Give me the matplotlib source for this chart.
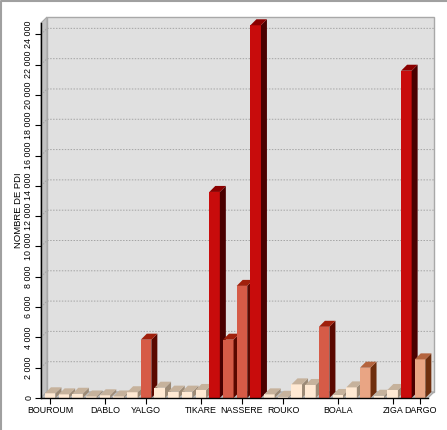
import matplotlib
matplotlib.use("Agg")
import matplotlib.pyplot as plt
from matplotlib.patches import Polygon

# labels that are visible in the chart; the other communes are not labelled
categories = ["BOUROUM", "", "", "", "DABLO", "", "", "YALGO", "", "", "", "TIKARE",
              "", "", "NASSERE", "", "", "ROUKO", "", "", "", "BOALA", "", "", "",
              "ZIGA", "", "DARGO"]
pdi = [310, 240, 280, 100, 180, 100, 380, 3850, 680, 420, 420, 530,
       13600, 3850, 7400, 24600, 240, 80, 900, 860, 4700, 200, 700, 2000,
       150, 530, 21600, 2550]

y_ticks = list(range(0, 24001, 2000))
y_title = "NOMBRE DE PDI"

# colour classes by value: (upper bound, front, top, side)
classes = [
    (1000, "#FFE9D3", "#C6B29C", "#9C8A76"),
    (3000, "#E9A584", "#B4643E", "#6E2E0E"),
    (10000, "#D65B47", "#A0200C", "#5A0800"),
    (1e9, "#C80C0C", "#8A0000", "#4A0000"),
]


def colours(v):
    for lim, f, t, s in classes:
        if v < lim:
            return f, t, s


W, H = 447, 430
fig = plt.figure(figsize=(W / 100, H / 100), dpi=100)
fig.patch.set_facecolor("white")
# grey frame only on the top and left edges
fig.add_artist(plt.Line2D([1 / W, 1 / W, 1], [0, 1 - 1 / H, 1 - 1 / H],
                          transform=fig.transFigure, color="#A0A0A0", lw=1.5))

left, right, top, bottom = 41, 428, 23, 398
ax = fig.add_axes([left / W, 1 - bottom / H, (right - left) / W, (bottom - top) / H])
ax.set_facecolor("none")

x0, x1 = -0.67, len(pdi) - 1 + 0.58
ymax = 24750
ax.set_xlim(x0, x1)
ax.set_ylim(0, ymax)

# depth of the pseudo 3d effect, in pixels, turned into data units
depth_px = 6
dx = depth_px * (x1 - x0) / (right - left)
dy = depth_px * ymax / (bottom - top)

wall = "#E0E0E0"
side = "#C2C2C2"
edge = "#A8A8A8"
ax.add_patch(Polygon([(x0 + dx, dy), (x1 + dx, dy), (x1 + dx, ymax + dy), (x0 + dx, ymax + dy)],
                     closed=True, facecolor=wall, edgecolor=edge, lw=1, zorder=0, clip_on=False))
ax.add_patch(Polygon([(x0, 0), (x0, ymax), (x0 + dx, ymax + dy), (x0 + dx, dy)],
                     closed=True, facecolor=side, edgecolor=edge, lw=0.8, zorder=0.5, clip_on=False))
ax.add_patch(Polygon([(x0, 0), (x1, 0), (x1 + dx, dy), (x0 + dx, dy)],
                     closed=True, facecolor=side, edgecolor=edge, lw=0.8, zorder=0.5, clip_on=False))

for v in y_ticks[1:]:
    ax.plot([x0, x0 + dx, x1 + dx], [v, v + dy, v + dy], color="#A4A4A4",
            lw=0.7, ls=(0, (1.5, 1.5)), zorder=1, clip_on=False)

bw = 0.77
for i, v in enumerate(pdi):
    f, t, s = colours(v)
    z = 3 + i * 0.01
    ax.bar(i, v, width=bw, color=f, zorder=z, lw=0)
    xl, xr = i - bw / 2, i + bw / 2
    ax.add_patch(Polygon([(xr, 0), (xr + dx, dy), (xr + dx, v + dy), (xr, v)],
                         closed=True, facecolor=s, lw=0, zorder=z, clip_on=False))
    ax.add_patch(Polygon([(xl, v), (xr, v), (xr + dx, v + dy), (xl + dx, v + dy)],
                         closed=True, facecolor=t, lw=0, zorder=z, clip_on=False))

for sp in ["top", "right"]:
    ax.spines[sp].set_visible(False)
for sp in ["left", "bottom"]:
    ax.spines[sp].set_color("black")
    ax.spines[sp].set_linewidth(1)
    ax.spines[sp].set_zorder(10)

ax.set_yticks(y_ticks)
ax.set_yticklabels([f"{v:,}".replace(",", " ") for v in y_ticks],
                   rotation=90, va="center", fontfamily="Liberation Sans", fontsize=6.4)
shown = [i for i, c in enumerate(categories) if c]
ax.set_xticks(shown)
ax.set_xticklabels([categories[i] for i in shown], fontfamily="Liberation Sans", fontsize=6.4)
ax.tick_params(axis="both", length=4, width=0.8, color="black", pad=1.5)
ax.set_ylabel(y_title, fontfamily="Liberation Sans", fontsize=6.8, labelpad=1)

fig.savefig("out.png", dpi=100)
